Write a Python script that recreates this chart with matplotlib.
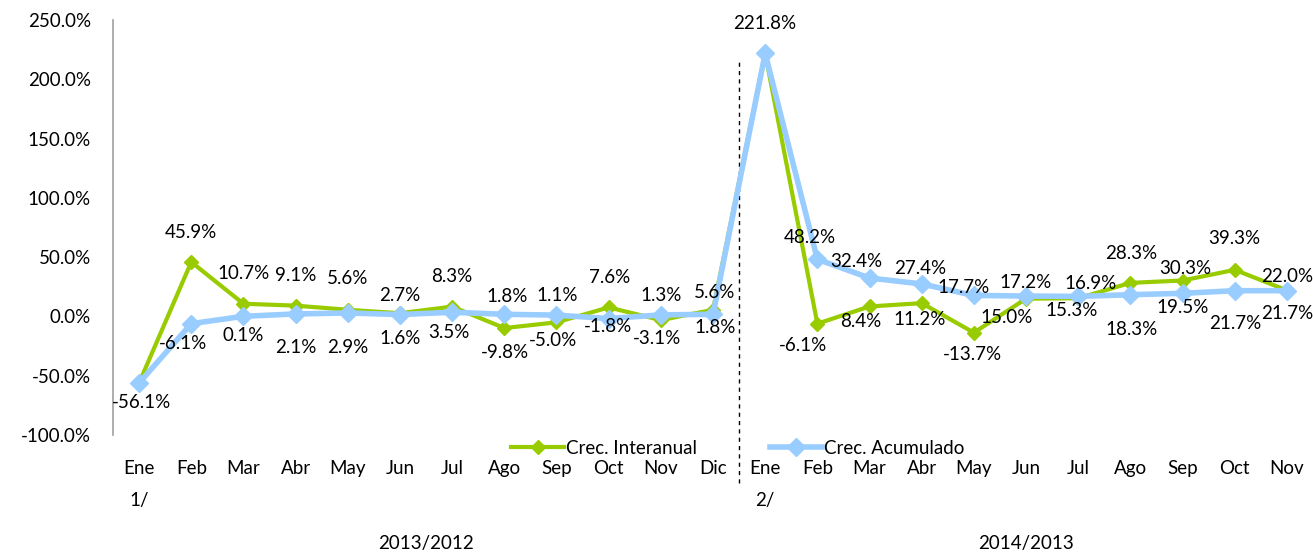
import matplotlib
matplotlib.use("Agg")
import matplotlib.pyplot as plt
import matplotlib.transforms as mtransforms
import numpy as np

plt.rcParams["font.family"] = ["Lato", "DejaVu Sans"]

# datos
meses = ["Ene\n1/", "Feb", "Mar", "Abr", "May", "Jun", "Jul", "Ago", "Sep", "Oct", "Nov", "Dic",
         "Ene\n2/", "Feb", "Mar", "Abr", "May", "Jun", "Jul", "Ago", "Sep", "Oct", "Nov"]
periodos = ["2013/2012", "2014/2013"]
n_periodo = [12, 11]

interanual = [-56.1, 45.9, 10.7, 9.1, 5.6, 2.7, 8.3, -9.8, -5.0, 7.6, -3.1, 5.6,
              221.8, -6.1, 8.4, 11.2, -13.7, 15.0, 15.3, 28.3, 30.3, 39.3, 22.0]
acumulado = [-56.1, -6.1, 0.1, 2.1, 2.9, 1.6, 3.5, 1.8, 1.1, -1.8, 1.3, 1.8,
             221.8, 48.2, 32.4, 27.4, 17.7, 17.2, 16.9, 18.3, 19.5, 21.7, 21.7]

VERDE = "#99CC00"
AZUL = "#99CCFF"
FS = 13.5

# desplazamiento de cada etiqueta (px: dx, dy hacia abajo); None = sin etiqueta
off_inter = [None, (0, -30), (0, -30), (0, -30), (0, -31), (0, -18), (0, -30), (1, 24),
             (-3, 18), (1, -30), (-4, 18), (2, -17),
             (-1, -30), (-14, 22), (-9, 15), (-2, 16), (-1, 22), (-19, 19), (-7, 12),
             (1, -29), (3, -12), (0, -31), (0, -14)]
off_acum = [(2, 20), (-8, 20), (0, 19), (0, 34), (0, 35), (0, 24), (-3, 20), (3, -18),
            (1, -20), (-1, 8), (0, -19), (2, 13),
            None, (-8, -22), (-13, -17), (-2, -15), (-10, -8), (0, -14), (12, -13),
            (1, 35), (0, 14), (0, 33), (0, 23)]

W, H = 1313, 552
fig = plt.figure(figsize=(W / 100, H / 100), dpi=100)
ax = fig.add_axes([113 / W, 1 - 435 / H, 1200 / W, 415 / H])

x = np.arange(len(meses))
ax.plot(x, interanual, color=VERDE, lw=3, marker="D", ms=7, label="Crec. Interanual", zorder=3)
ax.plot(x, acumulado, color=AZUL, lw=4, marker="D", ms=9.5, label="Crec. Acumulado", zorder=4)

for serie, offs in [(interanual, off_inter), (acumulado, off_acum)]:
    for i, (v, o) in enumerate(zip(serie, offs)):
        if o is None:
            continue
        ax.annotate(f"{v:.1f}%", (i, v), xytext=(o[0], -o[1]), textcoords="offset pixels",
                    ha="center", va="center", fontsize=FS, zorder=5)

ax.set_xlim(-0.5, len(meses) - 0.5)
ax.set_ylim(-100, 250)
yt = np.arange(-100, 251, 50)
ax.set_yticks(yt)
ax.set_yticklabels([f"{v:.1f}%" for v in yt])
ax.set_xticks(x)
ax.set_xticklabels(meses, va="top", linespacing=2.05)
ax.tick_params(axis="y", length=0, pad=16, labelsize=FS)
ax.tick_params(axis="x", length=0, pad=18, labelsize=FS)

for s in ["top", "right", "bottom"]:
    ax.spines[s].set_visible(False)
ax.spines["left"].set_color("#A0A0A0")
ax.spines["left"].set_linewidth(1.2)

# separador de periodos
sep = n_periodo[0] - 0.5
ax.axvline(sep, ymin=-48 / 415, ymax=(435 - 59) / 415, color="black", ls=(0, (3, 3)), lw=1,
           clip_on=False)

# nombres de periodo
trans = mtransforms.blended_transform_factory(ax.transData, fig.transFigure)
inicio = 0
for nombre, n in zip(periodos, n_periodo):
    ax.text(inicio + (n - 1) / 2, 1 - 543 / H, nombre, transform=trans,
            ha="center", va="center", fontsize=FS)
    inicio += n

ax.legend(loc="center", bbox_to_anchor=(738 / W, 1 - 448 / H), bbox_transform=fig.transFigure,
          ncol=2, frameon=False, fontsize=FS, handlelength=2.8, columnspacing=3.9,
          handletextpad=0.1)

fig.savefig("out.png", dpi=100)
